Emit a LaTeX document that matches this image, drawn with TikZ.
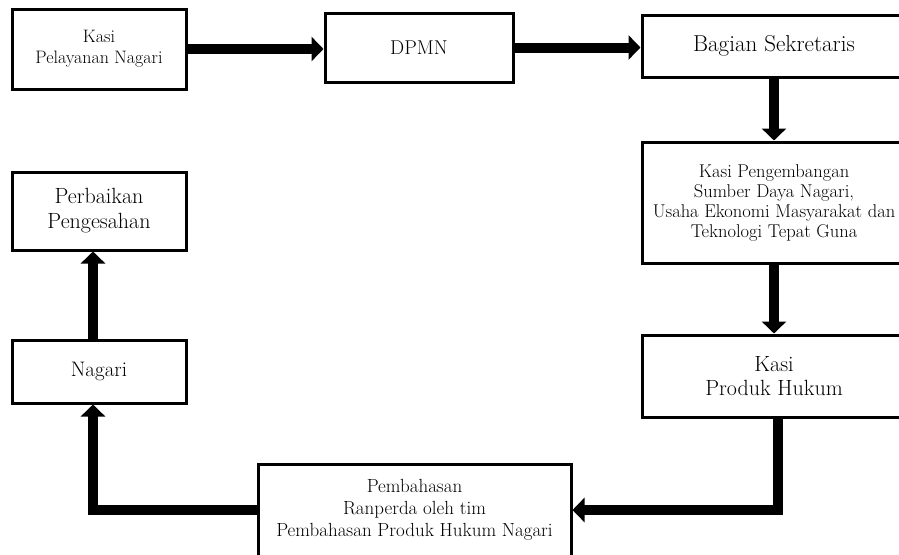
\documentclass[tikz,border=0pt]{standalone}
\usetikzlibrary{arrows.meta}
\begin{document}
\begin{tikzpicture}[x=1pt,y=-1pt,
  box/.style={draw, line width=3pt, rectangle, align=center, inner sep=0pt, fill=white,
    font=\fontsize{18}{21}\selectfont},
  big/.style={font=\fontsize{22}{24}\selectfont},
  arr/.style={line width=10pt, -{Triangle[length=12pt,width=24pt]}}]
\useasboundingbox (0,0) rectangle (899,554);
\clip (0,0) rectangle (899,554);
\node[box, minimum width=174pt, minimum height=80pt] (kpn) at (99,49) {Kasi\\Pelayanan Nagari};
\node[box, font=\fontsize{20}{22}\selectfont, minimum width=188pt, minimum height=69pt] (dpmn) at (419,47.5) {DPMN};
\node[box, font=\fontsize{23}{26}\selectfont, minimum width=264pt, minimum height=62pt] (bag) at (774,46) {Bagian Sekretaris};
\node[box, font=\fontsize{18.5}{20}\selectfont, minimum width=264pt, minimum height=121pt] (kpeng) at (774,202.5)
  {Kasi Pengembangan\\Sumber Daya Nagari,\\Usaha Ekonomi Masyarakat dan\\Teknologi Tepat Guna};
\node[box, big, minimum width=264pt, minimum height=82pt] (kprod) at (774,376) {Kasi\\Produk Hukum};
\node[box, font=\fontsize{19}{22}\selectfont, minimum width=313pt, minimum height=92pt] (pemb) at (414.5,510)
  {Pembahasan\\Ranperda oleh tim\\Pembahasan Produk Hukum Nagari};
\node[box, font=\fontsize{21}{24}\selectfont, minimum width=174pt, minimum height=63pt] (nag) at (99,371.5) {Nagari};
\node[box, font=\fontsize{22}{25}\selectfont, minimum width=174pt, minimum height=78pt] (perb) at (99,211) {Perbaikan\\Pengesahan};
\draw[arr] (kpn.east) -- (kpn.east -| dpmn.west);
\draw[arr] (dpmn.east) -- (dpmn.east -| bag.west);
\draw[arr] (bag.south) -- (kpeng.north);
\draw[arr] (kpeng.south) -- (kprod.north);
\draw[arr] ([xshift=4pt]kprod.south) |- (pemb.east);
\draw[arr] (pemb.west) -| ([xshift=-6pt]nag.south);
\draw[arr] ([xshift=-6pt]nag.north) -- ([xshift=-6pt]perb.south);
\end{tikzpicture}
\end{document}
